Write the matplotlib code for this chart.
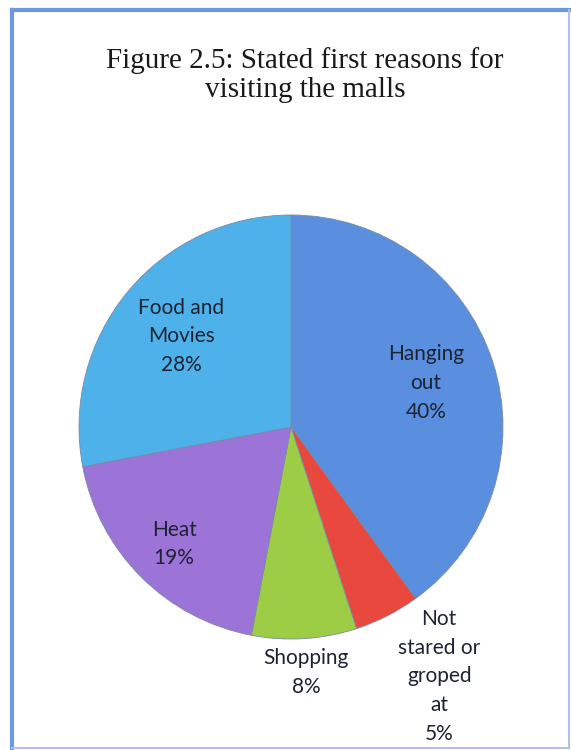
import matplotlib.pyplot as plt
from matplotlib.lines import Line2D
import numpy as np

# Survey shares, clockwise from 12 o'clock
reasons = ["Hanging\nout", "Not\nstared or\ngroped\nat", "Shopping", "Heat", "Food and\nMovies"]
shares = [40, 5, 8, 19, 28]
colors = ["#5a8fdf", "#e8483d", "#9dcd45", "#9c73d6", "#4fb1e9"]
# label placement: distance along the slice's mid-angle (in radii) and a sideways nudge
label_r = [0.67, 1.32, 1.16, 0.78, 0.67]
label_dx = [0.0, 0.10, 0.0, 0.0, 0.0]

fig = plt.figure(figsize=(5.71, 7.5), dpi=100)
fig.patch.set_facecolor("white")

# blue frame round the whole chart
fig.add_artist(Line2D([12/571, 12/571], [2/750, 740/750], color="#6b98e0", lw=3.0))
fig.add_artist(Line2D([12/571, 569/571], [740/750, 740/750], color="#6b98e0", lw=3.0))
fig.add_artist(Line2D([569/571, 569/571], [2/750, 740/750], color="#a9c3ee", lw=1.5))
fig.add_artist(Line2D([12/571, 569/571], [2/750, 2/750], color="#a9c3ee", lw=1.5))

fig.text(305/571, 1 - 75/750, "Figure 2.5: Stated first reasons for\nvisiting the malls",
         ha="center", va="center", fontsize=21, family="Liberation Serif",
         color="#1a1a1a", linespacing=1.15)

# pie area: centre at (291, 427) px, radius 212 px
ax = fig.add_axes([(291 - 212)/571, (750 - 427 - 212)/750, 424/571, 424/750])

wedges, _ = ax.pie(shares, colors=colors, startangle=90, counterclock=False,
                   radius=1.0, wedgeprops=dict(edgecolor="#7a8aa3", linewidth=0.6))
ax.set_xlim(-1, 1)
ax.set_ylim(-1, 1)
ax.set_aspect("equal")
ax.axis("off")

for w, name, val, r, dx in zip(wedges, reasons, shares, label_r, label_dx):
    mid = np.deg2rad((w.theta1 + w.theta2) / 2)
    ax.text(r * np.cos(mid) + dx, r * np.sin(mid), f"{name}\n{val}%",
            ha="center", va="center", fontsize=15, family="Lato",
            color="#1c2333", linespacing=1.55, clip_on=False)

fig.savefig("out.png", dpi=100, facecolor="white")
